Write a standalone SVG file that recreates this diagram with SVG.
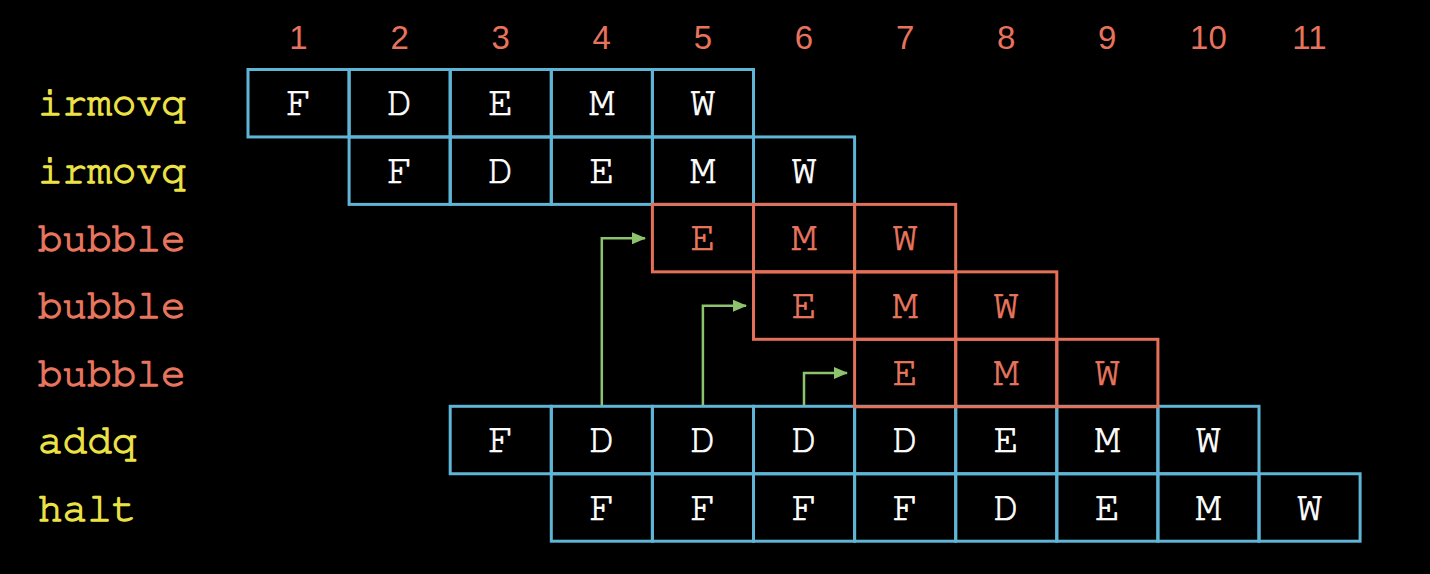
<svg xmlns="http://www.w3.org/2000/svg" width="1430" height="574" viewBox="0 0 1430 574">
<defs>
<style>
.bg{fill:#000}
.num{font-family:"Liberation Sans",Arial,sans-serif;font-size:33px;fill:#e8735c;text-anchor:middle}
.lab{font-family:"Nimbus Mono PS","Nimbus Mono L","FreeMono","Courier 10 Pitch","Courier Prime","Liberation Mono",monospace;font-size:41px;stroke-width:1.3px;stroke-linejoin:round}
.ins{fill:#ece246;stroke:#ece246}
.bub{fill:#e8755e;stroke:#e8755e}
.cb{fill:none;stroke:#5fb5d6;stroke-width:3}
.cr{fill:none;stroke:#e5705a;stroke-width:3}
.st{font-family:"Nimbus Mono PS","Nimbus Mono L","FreeMono","Courier 10 Pitch","Courier Prime","Liberation Mono",monospace;font-size:42px;text-anchor:middle;stroke-width:0.7px;stroke-linejoin:round}
.sw{fill:#ffffff;stroke:#ffffff}
.sr{fill:#e8755e;stroke:#e8755e}
.arr{fill:none;stroke:#8cc36c;stroke-width:2.5}
</style>
<marker id="ah" markerWidth="14" markerHeight="12" refX="13" refY="6" orient="auto" markerUnits="userSpaceOnUse" viewBox="0 0 14 12">
<path d="M0,0 L14,6 L0,12 z" fill="#8cc36c"/>
</marker>
</defs>
<rect class="bg" x="0" y="0" width="1430" height="574"/>

<g id="cycles">
<text class="num" x="298.5" y="49">1</text>
<text class="num" x="399.6" y="49">2</text>
<text class="num" x="500.7" y="49">3</text>
<text class="num" x="601.8" y="49">4</text>
<text class="num" x="702.9" y="49">5</text>
<text class="num" x="804" y="49">6</text>
<text class="num" x="905.1" y="49">7</text>
<text class="num" x="1006.2" y="49">8</text>
<text class="num" x="1107.3" y="49">9</text>
<text class="num" x="1208.4" y="49">10</text>
<text class="num" x="1309.5" y="49">11</text>
</g>

<g id="labels">
<text class="lab ins" x="38" y="115">irmovq</text>
<text class="lab ins" x="38" y="183">irmovq</text>
<text class="lab bub" x="38" y="251">bubble</text>
<text class="lab bub" x="38" y="318">bubble</text>
<text class="lab bub" x="38" y="386">bubble</text>
<text class="lab ins" x="38" y="453">addq</text>
<text class="lab ins" x="38" y="521">halt</text>
</g>

<g id="row-irmovq-1">
<rect class="cb" x="248" y="69.5" width="101.1" height="67.45"/>
<rect class="cb" x="349.1" y="69.5" width="101.1" height="67.45"/>
<rect class="cb" x="450.2" y="69.5" width="101.1" height="67.45"/>
<rect class="cb" x="551.3" y="69.5" width="101.1" height="67.45"/>
<rect class="cb" x="652.4" y="69.5" width="101.1" height="67.45"/>
<text class="st sw" x="298.5" y="115">F</text>
<text class="st sw" x="399.6" y="115">D</text>
<text class="st sw" x="500.7" y="115">E</text>
<text class="st sw" x="601.8" y="115">M</text>
<text class="st sw" x="702.9" y="115">W</text>
</g>

<g id="row-irmovq-2">
<rect class="cb" x="349.1" y="136.95" width="101.1" height="67.45"/>
<rect class="cb" x="450.2" y="136.95" width="101.1" height="67.45"/>
<rect class="cb" x="551.3" y="136.95" width="101.1" height="67.45"/>
<rect class="cb" x="652.4" y="136.95" width="101.1" height="67.45"/>
<rect class="cb" x="753.5" y="136.95" width="101.1" height="67.45"/>
<text class="st sw" x="399.6" y="182.5">F</text>
<text class="st sw" x="500.7" y="182.5">D</text>
<text class="st sw" x="601.8" y="182.5">E</text>
<text class="st sw" x="702.9" y="182.5">M</text>
<text class="st sw" x="804" y="182.5">W</text>
</g>

<g id="row-addq">
<rect class="cb" x="450.2" y="406.3" width="101.1" height="67.45"/>
<rect class="cb" x="551.3" y="406.3" width="101.1" height="67.45"/>
<rect class="cb" x="652.4" y="406.3" width="101.1" height="67.45"/>
<rect class="cb" x="753.5" y="406.3" width="101.1" height="67.45"/>
<rect class="cb" x="854.6" y="406.3" width="101.1" height="67.45"/>
<rect class="cb" x="955.7" y="406.3" width="101.1" height="67.45"/>
<rect class="cb" x="1056.8" y="406.3" width="101.1" height="67.45"/>
<rect class="cb" x="1157.9" y="406.3" width="101.1" height="67.45"/>
<text class="st sw" x="500.7" y="452">F</text>
<text class="st sw" x="601.8" y="452">D</text>
<text class="st sw" x="702.9" y="452">D</text>
<text class="st sw" x="804" y="452">D</text>
<text class="st sw" x="905.1" y="452">D</text>
<text class="st sw" x="1006.2" y="452">E</text>
<text class="st sw" x="1107.3" y="452">M</text>
<text class="st sw" x="1208.4" y="452">W</text>
</g>

<g id="row-halt">
<rect class="cb" x="551.3" y="473.75" width="101.1" height="67.45"/>
<rect class="cb" x="652.4" y="473.75" width="101.1" height="67.45"/>
<rect class="cb" x="753.5" y="473.75" width="101.1" height="67.45"/>
<rect class="cb" x="854.6" y="473.75" width="101.1" height="67.45"/>
<rect class="cb" x="955.7" y="473.75" width="101.1" height="67.45"/>
<rect class="cb" x="1056.8" y="473.75" width="101.1" height="67.45"/>
<rect class="cb" x="1157.9" y="473.75" width="101.1" height="67.45"/>
<rect class="cb" x="1259" y="473.75" width="101.1" height="67.45"/>
<text class="st sw" x="601.8" y="519.5">F</text>
<text class="st sw" x="702.9" y="519.5">F</text>
<text class="st sw" x="804" y="519.5">F</text>
<text class="st sw" x="905.1" y="519.5">F</text>
<text class="st sw" x="1006.2" y="519.5">D</text>
<text class="st sw" x="1107.3" y="519.5">E</text>
<text class="st sw" x="1208.4" y="519.5">M</text>
<text class="st sw" x="1309.5" y="519.5">W</text>
</g>

<g id="row-bubble-1">
<rect class="cr" x="652.4" y="204.4" width="101.1" height="67.45"/>
<rect class="cr" x="753.5" y="204.4" width="101.1" height="67.45"/>
<rect class="cr" x="854.6" y="204.4" width="101.1" height="67.45"/>
<text class="st sr" x="702.9" y="250">E</text>
<text class="st sr" x="804" y="250">M</text>
<text class="st sr" x="905.1" y="250">W</text>
</g>

<g id="row-bubble-2">
<rect class="cr" x="753.5" y="271.85" width="101.1" height="67.45"/>
<rect class="cr" x="854.6" y="271.85" width="101.1" height="67.45"/>
<rect class="cr" x="955.7" y="271.85" width="101.1" height="67.45"/>
<text class="st sr" x="804" y="317.5">E</text>
<text class="st sr" x="905.1" y="317.5">M</text>
<text class="st sr" x="1006.2" y="317.5">W</text>
</g>

<g id="row-bubble-3">
<rect class="cr" x="854.6" y="339.3" width="101.1" height="67.45"/>
<rect class="cr" x="955.7" y="339.3" width="101.1" height="67.45"/>
<rect class="cr" x="1056.8" y="339.3" width="101.1" height="67.45"/>
<text class="st sr" x="905.1" y="385">E</text>
<text class="st sr" x="1006.2" y="385">M</text>
<text class="st sr" x="1107.3" y="385">W</text>
</g>

<g id="connectors">
<path class="arr" d="M601.8,405 V238.3 H645" marker-end="url(#ah)"/>
<path class="arr" d="M702.9,405 V305.7 H746" marker-end="url(#ah)"/>
<path class="arr" d="M804,405 V373 H847" marker-end="url(#ah)"/>
</g>
</svg>
